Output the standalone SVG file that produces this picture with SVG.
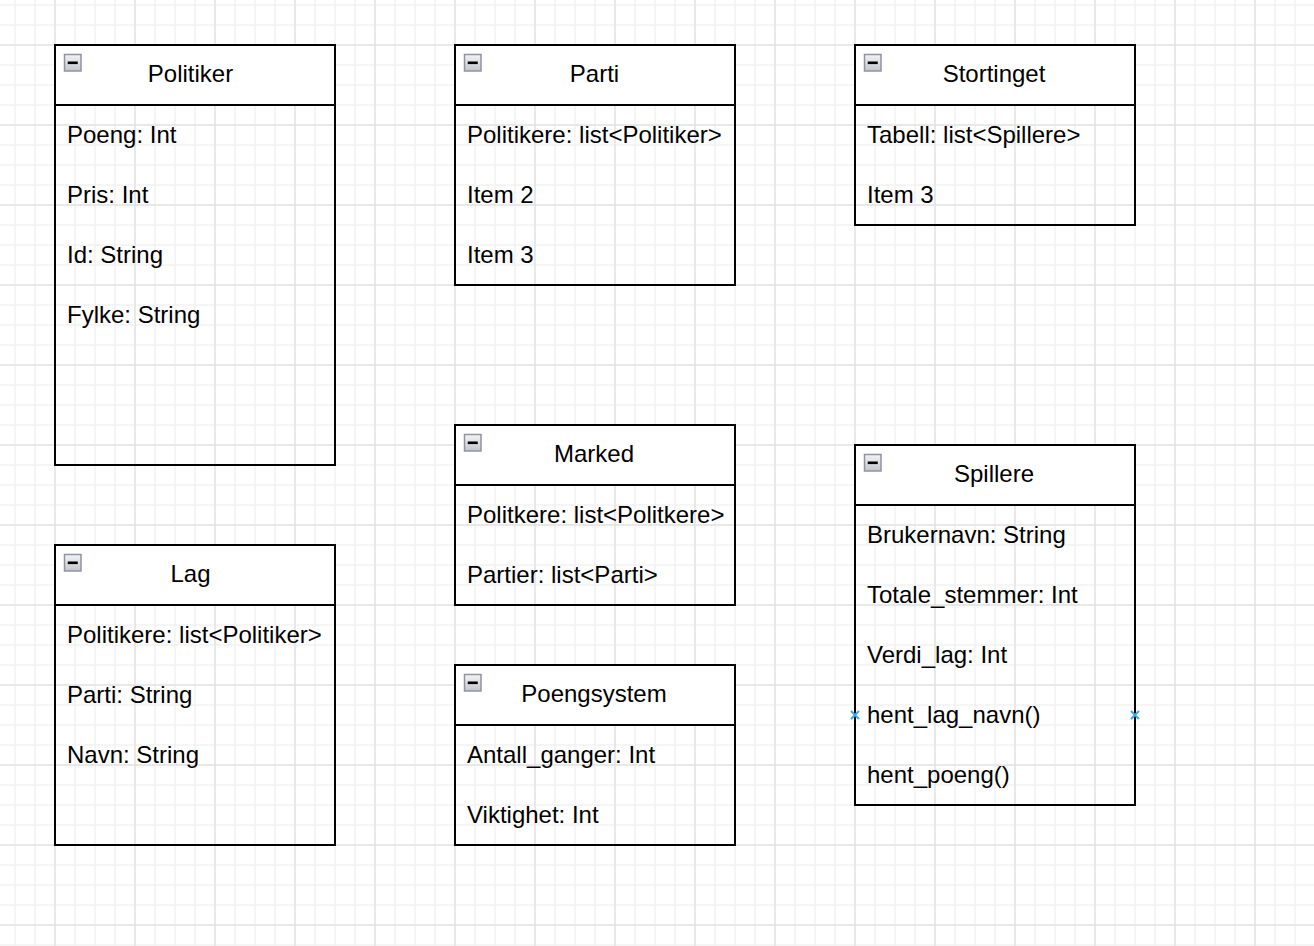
<svg xmlns="http://www.w3.org/2000/svg" width="1314" height="946" viewBox="0 0 1314 946">
<style>
text{font-family:"Liberation Sans",Arial,Helvetica,sans-serif;font-size:24px;fill:#000}
.t{text-anchor:middle}
.box{fill:none;stroke:#000;stroke-width:2}
.hdr{fill:#fff;stroke:#000;stroke-width:2}
.ic{fill:url(#icg);stroke:#8e93a6;stroke-width:1.5}
.mi{fill:#000}
.cp{stroke:#3ea7e8;stroke-width:2;fill:none}
</style>
<defs>
<linearGradient id="icg" x1="0" y1="0" x2="0" y2="1">
<stop offset="0" stop-color="#f4f4f6"/>
<stop offset="1" stop-color="#c4c5cb"/>
</linearGradient>
<pattern id="minor" patternUnits="userSpaceOnUse" x="5" y="-5" width="20" height="20">
<path d="M10 0V20M0 10H20" stroke="#f2f2f2" stroke-width="1.5" fill="none"/>
</pattern>
<pattern id="major" patternUnits="userSpaceOnUse" x="15" y="5" width="80" height="80">
<path d="M40 0V80M0 40H80" stroke="#e3e3e3" stroke-width="1.5" fill="none"/>
</pattern>
<g id="icon">
<rect class="ic" x="64.5" y="54.5" width="16.5" height="16.5"/>
<rect class="mi" x="67.75" y="61.5" width="10" height="2.6"/>
</g>
</defs>
<rect width="1314" height="946" fill="#fff"/>
<rect width="1314" height="946" fill="url(#minor)"/>
<rect width="1314" height="946" fill="url(#major)"/>

<g id="connectors"></g>

<g id="Politiker">
<rect class="box" x="55" y="45" width="280" height="420"/>
<rect class="hdr" x="55" y="45" width="280" height="60"/>
<use href="#icon"/>
<text class="t" x="190.5" y="82">Politiker</text>
<text x="67" y="142.5">Poeng: Int</text>
<text x="67" y="202.5">Pris: Int</text>
<text x="67" y="262.5">Id: String</text>
<text x="67" y="322.5">Fylke: String</text>
</g>

<g id="Parti">
<rect class="box" x="455" y="45" width="280" height="240"/>
<rect class="hdr" x="455" y="45" width="280" height="60"/>
<use href="#icon" x="400"/>
<text class="t" x="594.5" y="82">Parti</text>
<text x="467" y="142.5">Politikere: list&lt;Politiker&gt;</text>
<text x="467" y="202.5">Item 2</text>
<text x="467" y="262.5">Item 3</text>
</g>

<g id="Stortinget">
<rect class="box" x="855" y="45" width="280" height="180"/>
<rect class="hdr" x="855" y="45" width="280" height="60"/>
<use href="#icon" x="800"/>
<text class="t" x="994" y="82">Stortinget</text>
<text x="867" y="142.5">Tabell: list&lt;Spillere&gt;</text>
<text x="867" y="202.5">Item 3</text>
</g>

<g id="Marked">
<rect class="box" x="455" y="425" width="280" height="180"/>
<rect class="hdr" x="455" y="425" width="280" height="60"/>
<use href="#icon" x="400" y="380"/>
<text class="t" x="594" y="462">Marked</text>
<text x="467" y="522.5">Politkere: list&lt;Politkere&gt;</text>
<text x="467" y="582.5">Partier: list&lt;Parti&gt;</text>
</g>

<g id="Lag">
<rect class="box" x="55" y="545" width="280" height="300"/>
<rect class="hdr" x="55" y="545" width="280" height="60"/>
<use href="#icon" y="500"/>
<text class="t" x="190.5" y="582">Lag</text>
<text x="67" y="642.5">Politikere: list&lt;Politiker&gt;</text>
<text x="67" y="702.5">Parti: String</text>
<text x="67" y="762.5">Navn: String</text>
</g>

<g id="Poengsystem">
<rect class="box" x="455" y="665" width="280" height="180"/>
<rect class="hdr" x="455" y="665" width="280" height="60"/>
<use href="#icon" x="400" y="620"/>
<text class="t" x="594" y="702">Poengsystem</text>
<text x="467" y="762.5">Antall_ganger: Int</text>
<text x="467" y="822.5">Viktighet: Int</text>
</g>

<g id="Spillere">
<rect class="box" x="855" y="445" width="280" height="360"/>
<rect class="hdr" x="855" y="445" width="280" height="60"/>
<use href="#icon" x="800" y="400"/>
<text class="t" x="994" y="482">Spillere</text>
<text x="867" y="542.5">Brukernavn: String</text>
<text x="867" y="602.5">Totale_stemmer: Int</text>
<text x="867" y="662.5">Verdi_lag: Int</text>
<text x="867" y="722.5">hent_lag_navn()</text>
<text x="867" y="782.5">hent_poeng()</text>
<path class="cp" d="M851 711L859 719M859 711L851 719M1131 711L1139 719M1139 711L1131 719"/>
</g>
</svg>
